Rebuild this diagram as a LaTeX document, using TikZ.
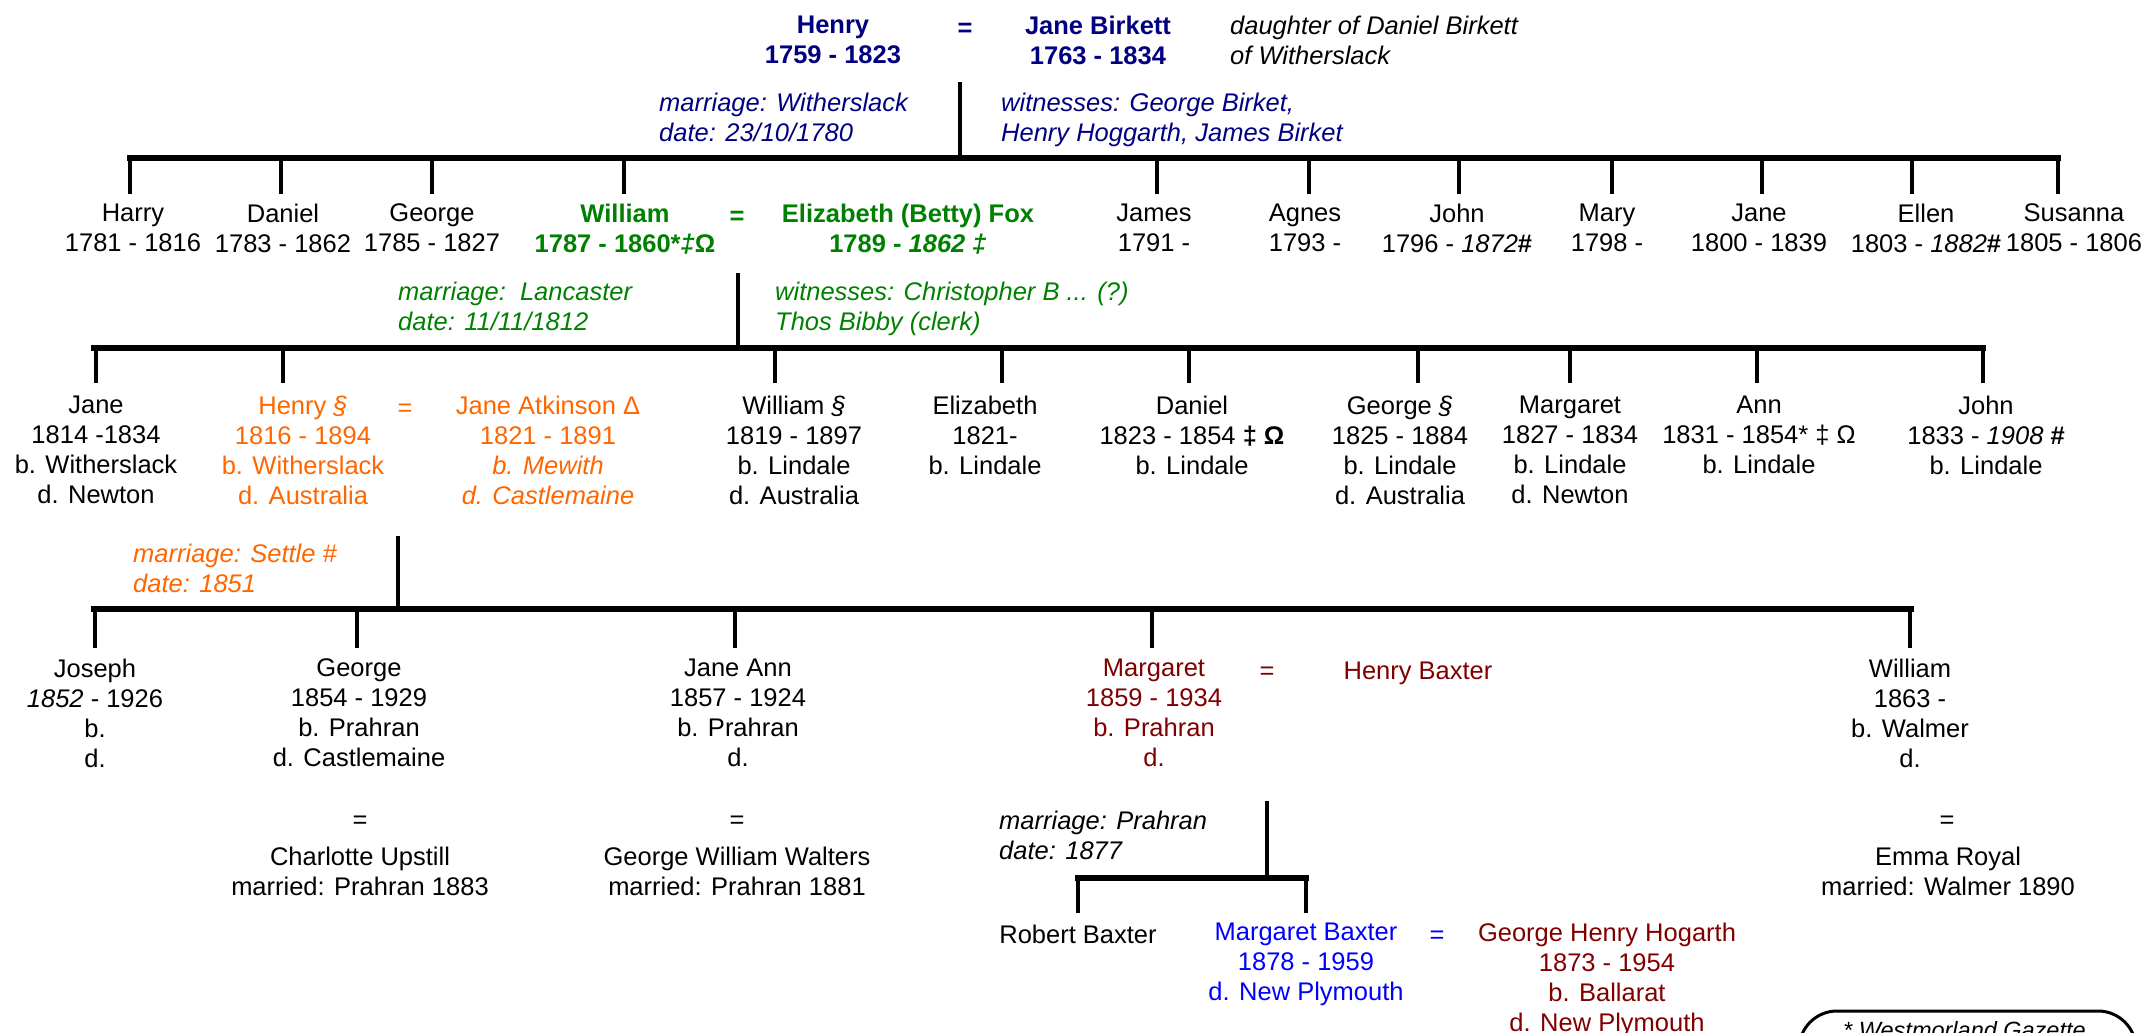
\documentclass[tikz,border=0pt]{standalone}
\usepackage{fontspec}
\setmainfont{Liberation Sans}
\definecolor{navyc}{RGB}{0,0,128}
\definecolor{greenc}{RGB}{0,128,0}
\definecolor{orangec}{RGB}{255,102,0}
\definecolor{darkredc}{RGB}{128,0,0}
\definecolor{bluec}{RGB}{0,0,255}
\tikzset{
  every node/.style={inner sep=0pt, font=\fontsize{25.5}{30}\selectfont},
  person/.style={anchor=north, align=center, yshift=-2.5pt, execute at begin node=\strut},
  note/.style={anchor=north west, align=left, yshift=-2.5pt, execute at begin node=\strut, font=\fontsize{25.5}{30}\selectfont\itshape},
  famline/.style={line width=6pt, line cap=rect},
  dropline/.style={line width=3.5pt},
}
\begin{document}
\begin{tikzpicture}[x=1pt,y=-1pt]
\useasboundingbox (0,0) rectangle (2142,1033);
\clip (0,0) rectangle (2142,1033);

% ---------------- generation 0
\node[person, text=navyc, font=\fontsize{25.5}{30}\selectfont\bfseries] (henry) at (833,13) {Henry\\1759 - 1823};
\node[person, text=navyc, font=\fontsize{25.5}{30}\selectfont\bfseries] (eq0) at (965,13) {=};
\node[person, text=navyc, font=\fontsize{25.5}{30}\selectfont\bfseries] (janeb) at (1098,13) {Jane Birkett\\1763 - 1834};
\node[note] (daughter) at (1230,13) {daughter of Daniel Birkett\\of Witherslack};
\node[note, text=navyc] (m0note) at (659,90) {marriage: Witherslack\\date: 23/10/1780};
\node[note, text=navyc] (w0note) at (1001,90) {witnesses: George Birket,\\Henry Hoggarth, James Birket};
\coordinate (m0top) at (960,82);
\coordinate (m0bar) at (960,158);
\draw[dropline] (m0top) -- (m0bar);
\coordinate (b0L) at (130,158);
\coordinate (b0R) at (2058,158);
\draw[famline] (b0L) -- (b0R);
\foreach \x/\n in {130/a,281/b,432/c,624/d,1157/e,1309/f,1459/g,1612/h,1762/i,1912/j,2058/k}{
  \coordinate (g1top\n) at (\x,158);
  \coordinate (g1bot\n) at (\x,194);
  \draw[dropline] (g1top\n) -- (g1bot\n);
}

% ---------------- generation 1
\node[person] (harry) at (133,201) {Harry\\1781 - 1816};
\node[person] (daniel1) at (283,201) {Daniel\\1783 - 1862};
\node[person] (george1) at (432,201) {George\\1785 - 1827};
\node[person, text=greenc, font=\fontsize{25.5}{30}\selectfont\bfseries] (william1) at (625,201) {William\\1787 - 1860*\textit{‡}Ω};
\node[person, text=greenc, font=\fontsize{25.5}{30}\selectfont\bfseries] (eq1) at (737,201) {=};
\node[person, text=greenc, font=\fontsize{25.5}{30}\selectfont\bfseries] (betty) at (908,201) {Elizabeth (Betty) Fox\\1789 - \textit{1862 ‡}};
\node[person] (james) at (1154,201) {James\\1791 -};
\node[person] (agnes) at (1305,201) {Agnes\\1793 -};
\node[person] (john1) at (1457,201) {John\\1796 - \textit{1872}\textbf{\#}};
\node[person] (mary) at (1607,201) {Mary\\1798 -};
\node[person] (jane1) at (1759,201) {Jane\\1800 - 1839};
\node[person] (ellen) at (1926,201) {Ellen\\1803 - \textit{1882}\textbf{\#}};
\node[person] (susanna) at (2074,201) {Susanna\\1805 - 1806};

\node[note, text=greenc] (m1note) at (398,279) {marriage:\ \ Lancaster\\date: 11/11/1812};
\node[note, text=greenc] (w1note) at (775,279) {witnesses: Christopher B ... (?)\\Thos Bibby (clerk)};
\coordinate (m1top) at (738,273);
\coordinate (m1bar) at (738,348);
\draw[dropline] (m1top) -- (m1bar);
\coordinate (b1L) at (94,348);
\coordinate (b1R) at (1983,348);
\draw[famline] (b1L) -- (b1R);
\foreach \x/\n in {96/a,283/b,775/c,1002/d,1189/e,1418/f,1570/g,1757/h,1983/i}{
  \coordinate (g2top\n) at (\x,348);
  \coordinate (g2bot\n) at (\x,383);
  \draw[dropline] (g2top\n) -- (g2bot\n);
}

% ---------------- generation 2
\node[person] (jane2) at (96,393) {Jane\\1814 -1834\\b. Witherslack\\d. Newton};
\node[person, text=orangec] (henry2) at (303,393) {Henry \textit{§}\\1816 - 1894\\b. Witherslack\\d. Australia};
\node[person, text=orangec] (eq2) at (405,393) {=};
\node[person, text=orangec] (jatk) at (548,393) {Jane Atkinson Δ\\1821 - 1891\\\textit{b. Mewith}\\\textit{d. Castlemaine}};
\node[person] (william2) at (794,393) {William \textit{§}\\1819 - 1897\\b. Lindale\\d. Australia};
\node[person] (eliz2) at (985,393) {Elizabeth\\1821-\\b. Lindale};
\node[person] (daniel2) at (1192,393) {Daniel\\1823 - 1854 \textbf{‡ Ω}\\b. Lindale};
\node[person] (george2) at (1400,393) {George \textit{§}\\1825 - 1884\\b. Lindale\\d. Australia};
\node[person] (marg2) at (1570,393) {Margaret\\1827 - 1834\\b. Lindale\\d. Newton};
\node[person] (ann2) at (1759,393) {Ann\\1831 - 1854* ‡ Ω\\b. Lindale};
\node[person] (john2) at (1986,393) {John\\1833 - \textit{1908} \textbf{\#}\\b. Lindale};

\node[note, text=orangec] (m2note) at (133,541) {marriage: Settle \#\\date: 1851};
\coordinate (m2top) at (398,536);
\coordinate (m2bar) at (398,609);
\draw[dropline] (m2top) -- (m2bar);
\coordinate (b2L) at (94,609);
\coordinate (b2R) at (1911,609);
\draw[famline] (b2L) -- (b2R);
\foreach \x/\n in {95/a,357/b,735/c,1152/d,1910/e}{
  \coordinate (g3top\n) at (\x,609);
  \coordinate (g3bot\n) at (\x,648);
  \draw[dropline] (g3top\n) -- (g3bot\n);
}

% ---------------- generation 3
\node[person] (joseph) at (95,656) {Joseph\\\textit{1852} - 1926\\b.\\d.};
\node[person] (george3) at (359,656) {George\\1854 - 1929\\b. Prahran\\d. Castlemaine};
\node[person] (janeann) at (738,656) {Jane Ann\\1857 - 1924\\b. Prahran\\d.};
\node[person, text=darkredc] (marg3) at (1154,656) {Margaret\\1859 - 1934\\b. Prahran\\d.};
\node[person, text=darkredc] (eq3) at (1267,656) {=};
\node[person, text=darkredc] (hbaxter) at (1418,656) {Henry Baxter};
\node[person] (william3) at (1910,656) {William\\1863 -\\b. Walmer\\d.};

\node[person] (eqg) at (360,805) {=};
\node[person] (charlotte) at (360,844) {Charlotte Upstill\\married: Prahran 1883};
\node[person] (eqj) at (737,805) {=};
\node[person] (walters) at (737,844) {George William Walters\\married: Prahran 1881};
\node[person] (eqw) at (1947,805) {=};
\node[person] (emma) at (1948,844) {Emma Royal\\married: Walmer 1890};

\node[note] (m3note) at (999,808) {marriage: Prahran\\date: 1877};
\coordinate (m3top) at (1267,801);
\coordinate (m3bar) at (1267,878);
\draw[dropline] (m3top) -- (m3bar);
\coordinate (b3L) at (1078,878);
\coordinate (b3R) at (1306,878);
\draw[famline] (b3L) -- (b3R);
\foreach \x/\n in {1078/a,1306/b}{
  \coordinate (g4top\n) at (\x,878);
  \coordinate (g4bot\n) at (\x,913);
  \draw[dropline] (g4top\n) -- (g4bot\n);
}

% ---------------- generation 4
\node[person] (robert) at (1078,920) {Robert Baxter};
\node[person, text=bluec] (mbaxter) at (1306,920) {Margaret Baxter\\1878 - 1959\\d. New Plymouth};
\node[person, text=bluec] (eq4) at (1437,920) {=};
\node[person, text=darkredc] (ghh) at (1607,920) {George Henry Hogarth\\1873 - 1954\\b. Ballarat\\d. New Plymouth};

% ---------------- footnote box
\draw[line width=3pt, rounded corners=38pt] (1799,1110) -- (1799,1011) -- (2136,1011) -- (2136,1110);
\node[anchor=base west, font=\fontsize{23.5}{28}\selectfont\itshape] (gazette) at (1843,1038) {* Westmorland Gazette};
\end{tikzpicture}
\end{document}
